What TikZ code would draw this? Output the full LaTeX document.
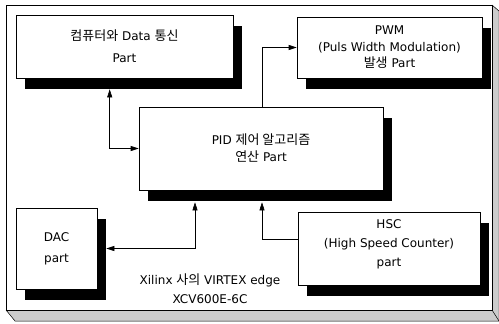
\documentclass[tikz,border=0pt]{standalone}
\usepackage{fontspec}
\setmainfont{DejaVu Sans}
\newfontfamily\kr{Noto Sans CJK KR}
\usetikzlibrary{arrows.meta,shadows,calc}
\begin{document}
\begin{tikzpicture}[x=1pt,y=-1pt,
  blk/.style={draw=black,line width=0.6pt,fill=white,align=center,inner sep=0pt,
    font=\fontsize{12}{17}\selectfont,
    drop shadow={shadow xshift=9pt,shadow yshift=-11pt,fill=black,opacity=1}},
  conn/.style={line width=0.6pt,-{Triangle[length=8pt,width=5pt]}},
  conn2/.style={line width=0.6pt,{Triangle[length=8pt,width=5pt]}-{Triangle[length=8pt,width=5pt]}},
  lbl/.style={align=center,font=\fontsize{12}{19}\selectfont}]
\useasboundingbox (0,0) rectangle (499,324);
% outer frame with bevel
\fill[gray!40] (6,310) -- (492,310) -- (492,5) -- (499,11) -- (499,321) -- (15,321) -- cycle;
\draw[line width=0.5pt] (6,310) -- (15,321) -- (499,321) -- (499,11) -- (492,5);
\draw[line width=0.5pt] (492,310) -- (499,321);
\draw[line width=0.8pt,fill=white] (6,5) rectangle (492,310);
% blocks
\node[blk,minimum width=217pt,minimum height=63pt,font=\fontsize{12}{22}\selectfont] (pc) at (124.5,46.5) {{\kr\fontsize{13}{22}\selectfont 컴퓨터와} Data {\kr\fontsize{13}{22}\selectfont 통신}\\Part};
\node[blk,minimum width=185pt,minimum height=61pt,font=\fontsize{12}{16.5}\selectfont] (pwm) at (389.5,47.5) {PWM\\(Puls Width Modulation)\\{\kr\fontsize{13}{16.5}\selectfont 발생} Part};
\node[blk,minimum width=244pt,minimum height=83pt] (pid) at (261,148.5) {PID {\kr\fontsize{13}{17}\selectfont 제어 알고리즘}\\{\kr\fontsize{13}{17}\selectfont 연산} Part};
\node[blk,minimum width=81pt,minimum height=81pt,font=\fontsize{12}{21}\selectfont] (dac) at (56.5,248.5) {DAC\\part};
\node[blk,minimum width=182pt,minimum height=73pt,text depth=10pt,font=\fontsize{12}{19}\selectfont] (hsc) at (389,248.5) {HSC\\(High Speed Counter)\\part};
\node[lbl] (chip) at (210,288.5) {Xilinx {\kr\fontsize{13}{19}\selectfont 사의} VIRTEX edge\\XCV600E-6C};
% connectors
\draw[conn2] ([shift={(94,11)}]pc.south west) |- (pid.west);
\draw[conn] ([xshift=1pt]pid.north) |- (pwm.west);
\draw[conn] ([yshift=9pt]hsc.west) -| ([shift={(1,12)}]pid.south);
\draw[conn2] ([shift={(-66,12)}]pid.south) |- ([xshift=9pt]dac.east);
\end{tikzpicture}
\end{document}
